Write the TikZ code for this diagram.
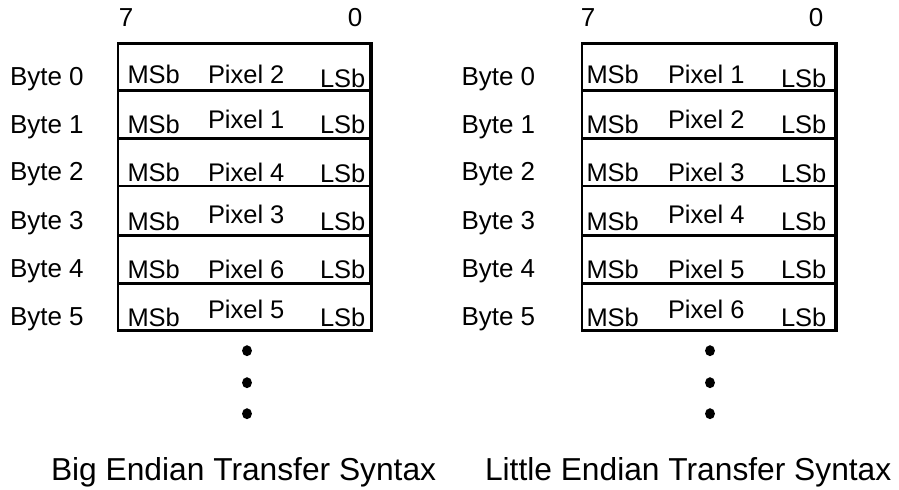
\documentclass[tikz,border=0pt]{standalone}
\usepackage{fontspec}
\setmainfont{Liberation Sans}
\newcommand{\cellfont}{\fontsize{19.1pt}{22pt}\selectfont}
\newcommand{\bytefont}{\fontsize{19.5pt}{22pt}\selectfont}
\newcommand{\titlefont}{\fontsize{23.8pt}{27pt}\selectfont}
\tikzset{
  txt/.style={inner sep=0pt, outer sep=0pt, anchor=base west, font=\cellfont},
  bytelbl/.style={inner sep=0pt, outer sep=0pt, anchor=base west, font=\bytefont},
  bitlbl/.style={inner sep=0pt, outer sep=0pt, anchor=base, font=\bytefont},
  ttl/.style={inner sep=0pt, outer sep=0pt, anchor=base west, font=\titlefont},
  boxline/.style={line width=1.9pt},
  thickedge/.style={line width=3.4pt},
  dotmark/.style={fill=black}
}
\begin{document}
\begin{tikzpicture}[x=0.75pt,y=-0.75pt]
\useasboundingbox (0,0) rectangle (899,489);
% ---- left box
\coordinate (LTL) at (117.8,43.3);
\coordinate (LBR) at (371.7,330.7);
\draw[boxline] (LTL) rectangle (LBR);
\foreach \yy in {90.3,138.7,186.2,235.3,283.7}{
  \draw[boxline] (117.8,\yy) -- (371.7,\yy);
}
\coordinate (LE1) at (371.2,42.3);
\coordinate (LE2) at (371.2,283.7);
\draw[thickedge] (LE1) -- (LE2);
% ---- right box
\coordinate (RTL) at (582,43.3);
\coordinate (RBR) at (835,330.7);
\draw[boxline] (RTL) rectangle (RBR);
\foreach \yy in {90.3,138.7,186.2,235.3,283.7}{
  \draw[boxline] (582,\yy) -- (835,\yy);
}
\coordinate (RE1) at (836,42.3);
\coordinate (RE2) at (836,331.7);
\draw[thickedge] (RE1) -- (RE2);
% ---- bit labels
\node[bitlbl] (l7) at (126,26.7) {7};
\node[bitlbl] (l0) at (355,26.7) {0};
\node[bitlbl] (r7) at (588,26.7) {7};
\node[bitlbl] (r0) at (816,26.7) {0};
% ---- rows
\foreach \i/\pl/\pr/\m/\p/\l/\b in {
  0/2/1/83.5/83.5/87/85,
  1/1/2/133.5/128.5/133.5/133,
  2/4/3/181.5/181.5/182.5/180.5,
  3/3/4/230.5/223.5/230.5/229,
  4/6/5/278.5/278.5/278.5/277,
  5/5/6/326/318.5/326/325}{
  \node[bytelbl] (lb\i) at (10,\b) {Byte \i};
  \node[txt] (lm\i) at (127.5,\m) {MSb};
  \node[txt] (lp\i) at (208,\p) {Pixel \pl};
  \node[txt] (ll\i) at (320,\l) {LSb};
  \node[bytelbl] (rb\i) at (461.5,\b) {Byte \i};
  \node[txt] (rm\i) at (586.5,\m) {MSb};
  \node[txt] (rp\i) at (668,\p) {Pixel \pr};
  \node[txt] (rl\i) at (781,\l) {LSb};
}
% ---- continuation dots
\foreach \yy in {350.7,382.7,413.7}{
  \fill[dotmark] (247,\yy) ellipse (3.7pt and 4.1pt);
  \fill[dotmark] (710,\yy) ellipse (3.7pt and 4.1pt);
}
% ---- titles
\node[ttl] (tbig) at (51,480.7) {Big Endian Transfer Syntax};
\node[ttl] (tlit) at (485,480.7) {Little Endian Transfer Syntax};
\end{tikzpicture}
\end{document}
